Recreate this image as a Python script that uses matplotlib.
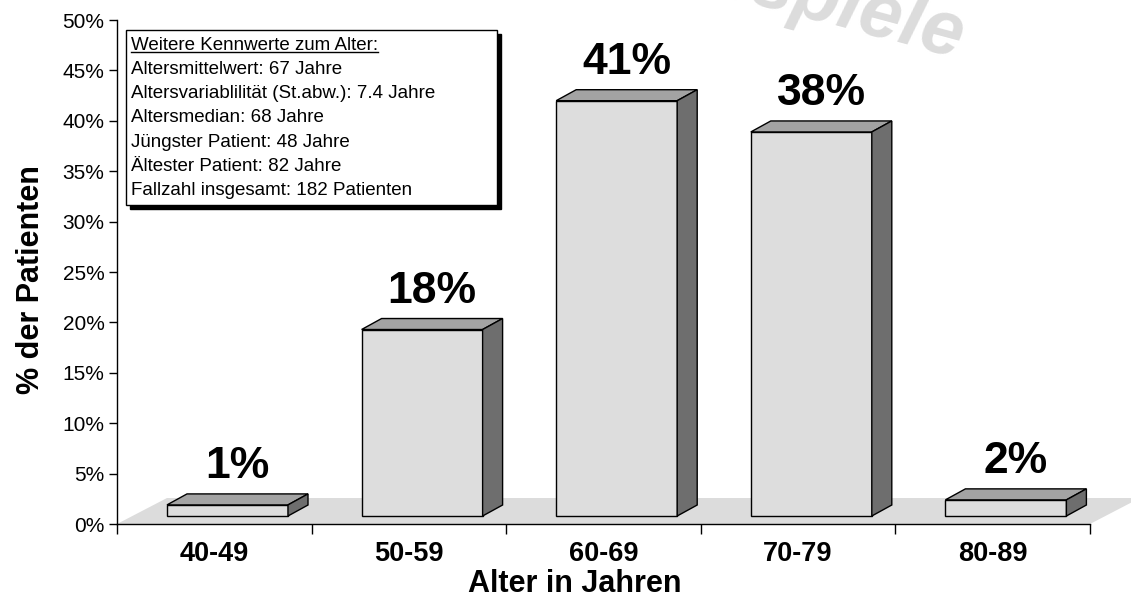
import matplotlib
matplotlib.use('Agg')
import matplotlib.pyplot as plt
from matplotlib.patches import Polygon, Rectangle
from matplotlib.lines import Line2D

plt.rcParams['font.family'] = ['Liberation Sans', 'DejaVu Sans']

# data
categories = ['40-49', '50-59', '60-69', '70-79', '80-89']
shares = [1.1, 18.5, 41.2, 38.1, 1.6]          # % of patients
share_labels = ['1%', '18%', '41%', '38%', '2%']
y_ticks = [0, 5, 10, 15, 20, 25, 30, 35, 40, 45, 50]

info_title = 'Weitere Kennwerte zum Alter:'
info_lines = ['Altersmittelwert: 67 Jahre',
              'Altersvariablilität (St.abw.): 7.4 Jahre',
              'Altersmedian: 68 Jahre',
              'Jüngster Patient: 48 Jahre',
              'Ältester Patient: 82 Jahre',
              'Fallzahl insgesamt: 182 Patienten']

W, H = 1131, 614
fig = plt.figure(figsize=(W / 100, H / 100), dpi=100)
ax = fig.add_axes([117 / W, 1 - 524 / H, 973 / W, 504 / H])
ax.set_xlim(0, 5)
ax.set_ylim(0, 50)

# pixel -> data unit factors
ux = 5 / 973
uy = 50 / 504

front_c = '#dddddd'
top_c = '#a3a3a3'
side_c = '#6e6e6e'

# floor of the 3d chart
fdx, fdy = 50 * ux, 26 * uy
ax.add_patch(Polygon([(0, 0), (5, 0), (5 + fdx, fdy), (fdx, fdy)],
                     closed=True, facecolor='#dcdcdc', edgecolor='none',
                     clip_on=False, zorder=1))

# 3d bars
off = 50 * ux
bw = 121 * ux
ddx, ddy = 20 * ux, 11 * uy
base = 8 * uy
for i, (v, lab) in enumerate(zip(shares, share_labels)):
    x0 = i + off
    x1 = x0 + bw
    y0 = base
    y1 = base + v
    kw = dict(closed=True, edgecolor='black', linewidth=1.0, clip_on=False, zorder=3)
    ax.add_patch(Polygon([(x0, y0), (x1, y0), (x1, y1), (x0, y1)], facecolor=front_c, **kw))
    ax.add_patch(Polygon([(x0, y1), (x1, y1), (x1 + ddx, y1 + ddy), (x0 + ddx, y1 + ddy)],
                         facecolor=top_c, **kw))
    ax.add_patch(Polygon([(x1, y0), (x1 + ddx, y0 + ddy), (x1 + ddx, y1 + ddy), (x1, y1)],
                         facecolor=side_c, **kw))
    ax.annotate(lab, ((x0 + x1) / 2 + ddx / 2, y1 + ddy), xytext=(0, 16),
                textcoords='offset pixels', ha='center', va='baseline',
                fontsize=32, fontweight='bold', zorder=4, annotation_clip=False)

# axes styling
for s in ['top', 'right']:
    ax.spines[s].set_visible(False)
ax.spines['left'].set_linewidth(1.0)
ax.spines['bottom'].set_linewidth(1.0)
ax.set_yticks(y_ticks)
ax.set_yticklabels([f'{t}%' for t in y_ticks], fontsize=15)
ax.tick_params(axis='y', length=6, width=1, pad=3)
ax.set_xticks(range(6))
ax.set_xticklabels([])
ax.set_xticks([i + 0.5 for i in range(5)], minor=True)
ax.set_xticklabels(categories, minor=True, fontsize=19.5, fontweight='bold')
ax.tick_params(axis='x', which='major', length=7, width=1)
ax.tick_params(axis='x', which='minor', length=0, pad=12)

ax.set_xlabel('Alter in Jahren', fontsize=22, fontweight='bold')
ax.xaxis.set_label_coords((575 - 117) / 973, -(569 - 524) / 504)
ax.set_ylabel('% der Patienten', fontsize=22, fontweight='bold')
ax.yaxis.set_label_coords((46 - 117) / 973, (524 - 280) / 504)


def fx(x):
    return x / W


def fy(y):
    return 1 - y / H


# info box with shadow
bx0, by0, bx1, by1 = 126, 30, 497, 205
fig.patches.append(Rectangle((fx(bx0 + 4), fy(by1 + 4)), (bx1 - bx0) / W, (by1 - by0) / H,
                             transform=fig.transFigure, facecolor='black',
                             edgecolor='black', zorder=5))
fig.patches.append(Rectangle((fx(bx0), fy(by1)), (bx1 - bx0) / W, (by1 - by0) / H,
                             transform=fig.transFigure, facecolor='white',
                             edgecolor='black', linewidth=1.0, zorder=6))
line_y = 45
step = 24.3
title_txt = fig.text(fx(131), fy(line_y), info_title, fontsize=13.5, va='center', ha='left', zorder=7)
for k, line in enumerate(info_lines):
    fig.text(fx(131), fy(line_y + (k + 1) * step), line, fontsize=13.5,
             va='center', ha='left', zorder=7)

# underline of the box title
fig.canvas.draw()
bb = title_txt.get_window_extent()
uy_px = bb.y0 + 2
fig.lines.append(Line2D([bb.x0 / W, bb.x1 / W], [uy_px / H, uy_px / H],
                        transform=fig.transFigure, color='black', linewidth=1.0, zorder=7))

# watermark
fig.text(fx(958), fy(58), 'Beispiele', fontsize=55, fontweight='bold', style='italic',
         color='#dcdcdc', rotation=-15, rotation_mode='anchor', ha='right', va='baseline',
         zorder=0)
fig.text(fx(1114), fy(-9), 'Bei', fontsize=55, fontweight='bold', style='italic',
         color='#dcdcdc', rotation=-15, rotation_mode='anchor', ha='left', va='baseline',
         zorder=0)

fig.savefig('out.png', dpi=100)
